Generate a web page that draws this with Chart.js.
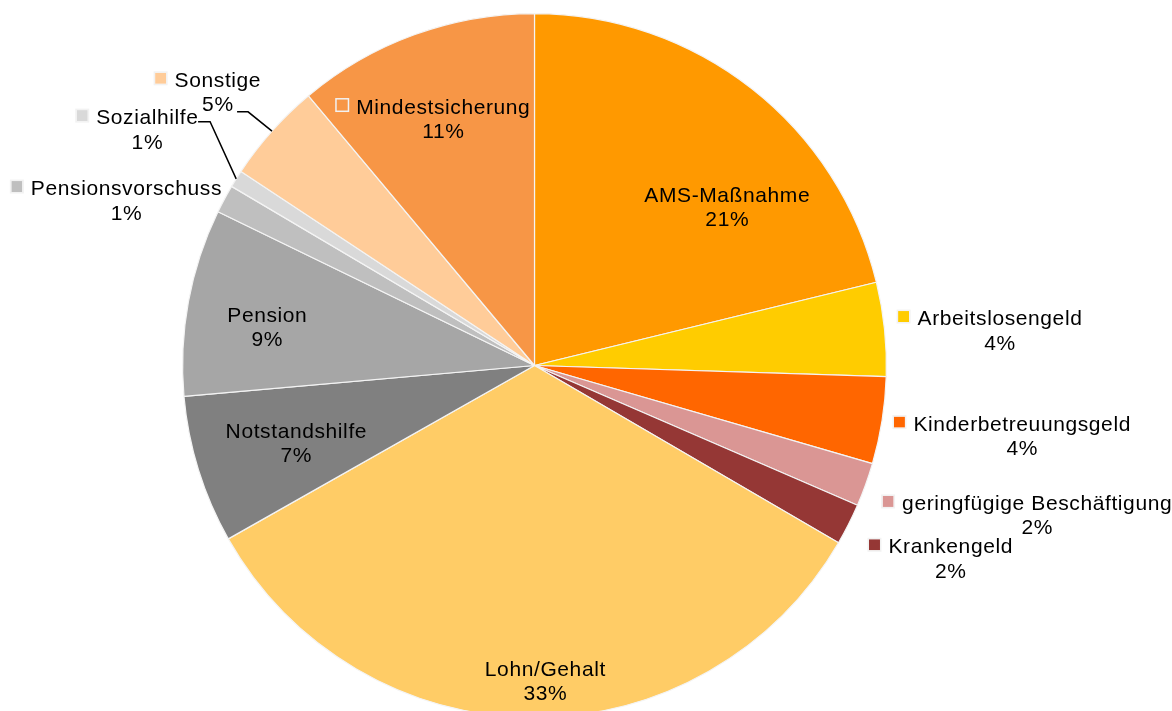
<!DOCTYPE html>
<html>
<head>
<meta charset="utf-8">
<script src="https://cdn.jsdelivr.net/npm/chart.js@4.4.1/dist/chart.umd.min.js"></script>
<style>
  html, body { margin: 0; padding: 0; background: #ffffff; overflow: hidden; }
  #wrap { width: 1172px; height: 730px; position: relative; }
</style>
</head>
<body>
<div id="wrap"><canvas id="c" width="1172" height="730"></canvas></div>
<script>
// ---- data ----
const categories = [
  "AMS-Maßnahme", "Arbeitslosengeld", "Kinderbetreuungsgeld", "geringfügige Beschäftigung",
  "Krankengeld", "Lohn/Gehalt", "Notstandshilfe", "Pension", "Pensionsvorschuss",
  "Sozialhilfe", "Sonstige", "Mindestsicherung"
];
const values = [21.2, 4.3, 4.0, 2.0, 1.9, 33.4, 6.8, 8.6, 1.3, 0.8, 4.6, 11.1];
const sliceColors = [
  "#FF9900", "#FFCC00", "#FF6600", "#DA9694", "#953735", "#FFCC66",
  "#808080", "#A6A6A6", "#BFBFBF", "#D9D9D9", "#FFCC99", "#F79646"
];

// ---- label layout (relative to pie centre, in units of radius) ----
const labelLayout = [
  { rx: 0.547,  ry: -0.465, key: false },
  { rx: 1.322,  ry: -0.115, key: true },
  { rx: 1.385,  ry: 0.185,  key: true },
  { rx: 1.4276, ry: 0.4105, key: true },
  { rx: 1.182,  ry: 0.5335, key: true },
  { rx: 0.030,  ry: 0.882,  key: false },
  { rx: -0.6776,ry: 0.205,  key: false },
  { rx: -0.760, ry: -0.124, key: false },
  { rx: -1.1605,ry: -0.4844,key: true },
  { rx: -1.1009,ry: -0.686, key: true, leader: { sx: 51, sy: -2.3, ex: 63 } },
  { rx: -0.9006,ry: -0.792, key: true, leader: { sx: 19.5, sy: 25, ex: 30.5 } },
  { rx: -0.26,  ry: -0.716, key: true }
];

const total = values.reduce((a, b) => a + b, 0);

const labelPlugin = {
  id: 'sliceLabels',
  afterDatasetsDraw(chart) {
    const ctx = chart.ctx;
    const meta = chart.getDatasetMeta(0);
    const FONT = '21px "Liberation Sans", Arial, sans-serif';
    const LS = 0.6;
    ctx.save();
    ctx.font = FONT;
    if ('letterSpacing' in ctx) ctx.letterSpacing = LS + 'px';
    ctx.textBaseline = 'alphabetic';
    meta.data.forEach((arc, i) => {
      const lay = labelLayout[i];
      const R = arc.outerRadius;
      const ax = arc.x + lay.rx * R;
      const ay = arc.y + lay.ry * R;
      const name = categories[i];
      const pct = Math.round(values[i] / total * 100) + '%';
      const wName = ctx.measureText(name).width - LS;
      const wPct = ctx.measureText(pct).width - LS;
      ctx.textAlign = 'left';
      ctx.fillStyle = '#000000';
      ctx.fillText(name, ax - wName / 2, ay);
      ctx.fillText(pct, ax - wPct / 2, ay + 24.5);
      if (lay.key) {
        const kx = ax - wName / 2 - 8.5 - 11;
        const ky = ay - 14;
        ctx.fillStyle = sliceColors[i];
        ctx.fillRect(kx, ky, 11, 11);
        ctx.strokeStyle = '#f2f2f2';
        ctx.lineWidth = 1.5;
        ctx.strokeRect(kx - 0.75, ky - 0.75, 12.5, 12.5);
      }
      if (lay.leader) {
        const mid = (arc.startAngle + arc.endAngle) / 2;
        const px = arc.x + Math.cos(mid) * R;
        const py = arc.y + Math.sin(mid) * R;
        ctx.strokeStyle = '#000000';
        ctx.lineWidth = 1.5;
        ctx.beginPath();
        ctx.moveTo(ax + lay.leader.sx, ay + lay.leader.sy);
        ctx.lineTo(ax + lay.leader.ex, ay + lay.leader.sy);
        ctx.lineTo(px, py);
        ctx.stroke();
      }
    });
    ctx.restore();
  }
};

new Chart(document.getElementById('c'), {
  type: 'pie',
  data: {
    labels: categories,
    datasets: [{
      data: values,
      backgroundColor: sliceColors,
      borderColor: '#f4f4f4',
      borderWidth: 1.2
    }]
  },
  options: {
    responsive: false,
    animation: false,
    devicePixelRatio: 1,
    layout: { padding: { left: 182, right: 285, top: 13, bottom: 12 } },
    plugins: { legend: { display: false }, tooltip: { enabled: false } }
  },
  plugins: [labelPlugin]
});
</script>
</body>
</html>
